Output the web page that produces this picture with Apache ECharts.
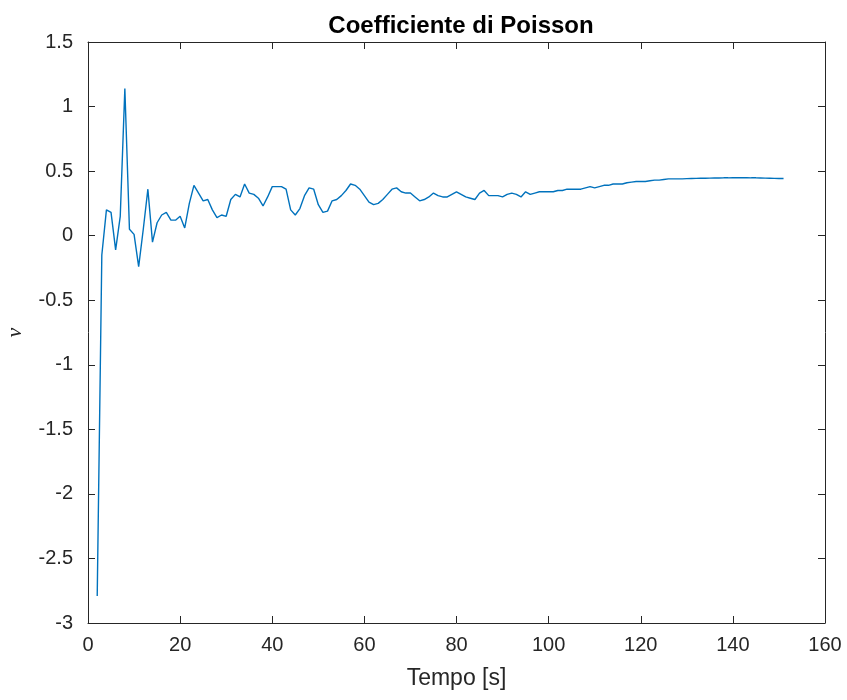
<!DOCTYPE html>
<html>
<head>
<meta charset="utf-8">
<script src="https://cdn.jsdelivr.net/npm/echarts@6/dist/echarts.min.js"></script>
<style>
html,body{margin:0;padding:0;background:#fff;}
#chart{width:847px;height:700px;}
</style>
</head>
<body>
<div id="chart"></div>
<script>
// Time [s]
var timeValues = [];
for (var t = 2; t <= 151; t++) timeValues.push(t);

// Poisson coefficient (nu), one value per second from 2 s to 151 s
var nuValues = [
  -2.79, -0.15, 0.20, 0.18, -0.11, 0.15, 1.14, 0.05, 0.01, -0.24,
  0.05, 0.36, -0.05, 0.10, 0.16, 0.18, 0.12, 0.12, 0.15, 0.06,
  0.25, 0.39, 0.33, 0.27, 0.28, 0.20, 0.14, 0.16, 0.15, 0.28,
  0.32, 0.30, 0.40, 0.33, 0.32, 0.29, 0.23, 0.30, 0.38, 0.38,
  0.38, 0.36, 0.20, 0.16, 0.21, 0.31, 0.37, 0.36, 0.24, 0.18,
  0.19, 0.27, 0.28, 0.31, 0.35, 0.40, 0.39, 0.36, 0.31, 0.26,
  0.24, 0.25, 0.28, 0.32, 0.36, 0.37, 0.34, 0.33, 0.33, 0.30,
  0.27, 0.28, 0.30, 0.33, 0.31, 0.30, 0.30, 0.32, 0.34, 0.32,
  0.30, 0.29, 0.28, 0.33, 0.35, 0.31, 0.31, 0.31, 0.30, 0.32,
  0.33, 0.32, 0.30, 0.34, 0.32, 0.33, 0.34, 0.34, 0.34, 0.34,
  0.35, 0.35, 0.36, 0.36, 0.36, 0.36, 0.37, 0.38, 0.37, 0.38,
  0.39, 0.39, 0.40, 0.40, 0.40, 0.41, 0.415, 0.42, 0.42, 0.42,
  0.425, 0.43, 0.43, 0.435, 0.44, 0.44, 0.44, 0.44, 0.442, 0.443,
  0.444, 0.445, 0.445, 0.446, 0.447, 0.447, 0.448, 0.448, 0.449, 0.449,
  0.449, 0.449, 0.448, 0.448, 0.447, 0.446, 0.445, 0.444, 0.443, 0.443
];

var xTicks = [0, 20, 40, 60, 80, 100, 120, 140, 160];
var yTicks = [-3, -2.5, -2, -1.5, -1, -0.5, 0, 0.5, 1, 1.5];

var chartTitle = 'Coefficiente di Poisson';
var xLabel = 'Tempo [s]';
var yLabel = 'ν';

var seriesData = timeValues.map(function (t, i) { return [t, nuValues[i]]; });

var axisColor = '#262626';
var fontFam = '"Liberation Sans", Arial, Helvetica, sans-serif';

var chart = echarts.init(document.getElementById('chart'), null, {renderer: 'canvas'});

function baseX(show) {
  return {
    type: 'value', min: xTicks[0], max: xTicks[xTicks.length - 1], interval: 20,
    axisLine: {show: true, onZero: false, lineStyle: {color: axisColor, width: 1}},
    axisTick: {show: true, inside: true, length: 7, lineStyle: {color: axisColor}},
    axisLabel: {show: show, color: axisColor, fontSize: 20, fontFamily: fontFam, margin: 12},
    splitLine: {show: false}
  };
}
function baseY(show) {
  return {
    type: 'value', min: yTicks[0], max: yTicks[yTicks.length - 1], interval: 0.5,
    axisLine: {show: true, onZero: false, lineStyle: {color: axisColor, width: 1}},
    axisTick: {show: true, inside: true, length: 7, lineStyle: {color: axisColor}},
    axisLabel: {show: show, color: axisColor, fontSize: 20, fontFamily: fontFam, margin: 15},
    splitLine: {show: false}
  };
}

var xBottom = baseX(true);
xBottom.position = 'bottom';
xBottom.name = xLabel;
xBottom.nameLocation = 'middle';
xBottom.nameGap = 44;
xBottom.nameTextStyle = {color: axisColor, fontSize: 23, fontFamily: fontFam};
var xTop = baseX(false);
xTop.position = 'top';

var yLeft = baseY(true);
yLeft.position = 'left';
yLeft.name = yLabel;
yLeft.nameLocation = 'middle';
yLeft.nameRotate = 90;
yLeft.nameGap = 62;
yLeft.nameTextStyle = {color: axisColor, fontSize: 22, fontStyle: 'italic', fontFamily: '"Liberation Serif", "DejaVu Serif", serif'};
var yRight = baseY(false);
yRight.position = 'right';

chart.setOption({
  backgroundColor: '#ffffff',
  animation: false,
  title: {
    text: chartTitle,
    left: 456,
    top: 9,
    textAlign: 'center',
    textStyle: {color: '#000', fontSize: 24, fontWeight: 'bold', fontFamily: fontFam}
  },
  grid: {left: 88, right: 22, top: 42, bottom: 77, containLabel: false, outerBoundsMode: 'none'},
  xAxis: [xBottom, xTop],
  yAxis: [yLeft, yRight],
  series: [{
    type: 'line',
    xAxisIndex: 0,
    yAxisIndex: 0,
    data: seriesData,
    showSymbol: false,
    smooth: false,
    lineStyle: {color: '#0072BD', width: 1.4},
    itemStyle: {color: '#0072BD'}
  }]
});
</script>
</body>
</html>
